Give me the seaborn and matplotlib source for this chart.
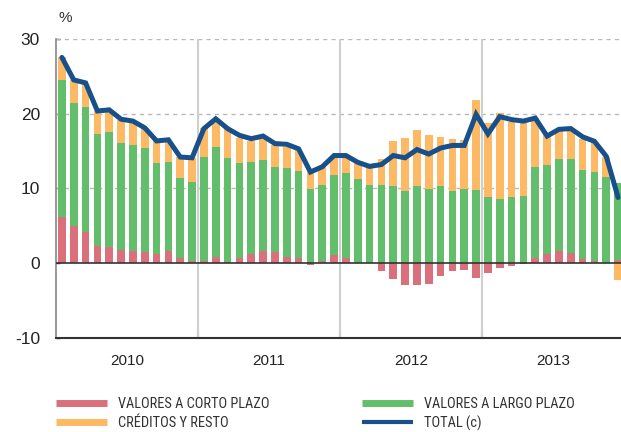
import numpy as np
import matplotlib
matplotlib.use("Agg")
import matplotlib.pyplot as plt
import seaborn as sns
from matplotlib.lines import Line2D
from matplotlib import font_manager as fm

# monthly data, jan-2010 .. dec-2013 (% contributions)
years = ["2010", "2011", "2012", "2013"]
corto = [6.25, 5.0, 4.15, 2.3, 2.15, 1.8, 1.6, 1.5, 1.25, 1.6, 0.7, 0.27,
         0.27, 0.9, 0.13, 0.7, 1.25, 1.7, 1.56, 0.8, 0.7, -0.2, 0.36, 1.1,
         0.7, 0.0, 0.0, -1.0, -2.1, -2.9, -2.9, -2.7, -1.7, -1.0, -0.85, -1.9,
         -1.3, -0.6, -0.35, -0.1, 0.7, 1.25, 1.6, 1.35, 0.6, 0.27, 0.0, 0.5]
largo = [18.3, 16.4, 16.75, 15.0, 15.35, 14.3, 14.2, 13.9, 12.15, 11.9, 10.7, 10.6,
         14.0, 14.7, 14.0, 12.7, 12.35, 12.05, 11.3, 11.9, 11.6, 9.95, 10.05, 10.7,
         11.35, 11.3, 10.5, 10.5, 10.36, 9.7, 10.3, 10.0, 10.3, 9.7, 10.0, 9.8,
         8.9, 8.6, 8.85, 9.0, 12.2, 11.85, 12.4, 12.55, 11.9, 11.9, 11.6, 10.25]
creditos = [3.05, 3.1, 3.1, 3.1, 3.0, 3.1, 3.2, 2.7, 2.9, 2.9, 2.8, 3.25,
            3.8, 3.3, 3.8, 3.4, 2.8, 2.9, 2.95, 2.9, 2.8, 2.25, 2.5, 2.4,
            2.35, 2.2, 2.6, 3.5, 6.0, 7.1, 7.5, 7.2, 6.6, 6.9, 6.5, 12.0,
            9.85, 11.5, 10.05, 9.7, 6.5, 4.0, 3.8, 4.1, 4.15, 4.0, 2.6, -2.2]
total = [27.5, 24.5, 24.1, 20.35, 20.5, 19.25, 19.0, 18.1, 16.35, 16.5, 14.2, 14.1,
         18.0, 19.3, 18.0, 17.1, 16.65, 17.0, 16.0, 15.9, 15.3, 12.2, 12.9, 14.4,
         14.4, 13.5, 12.95, 13.2, 14.4, 14.1, 15.2, 14.6, 15.4, 15.75, 15.75, 19.9,
         17.3, 19.6, 19.2, 19.0, 19.4, 17.0, 17.9, 18.0, 16.9, 16.3, 14.3, 8.8]
labels = ["VALORES A CORTO PLAZO", "CRÉDITOS Y RESTO",
          "VALORES A LARGO PLAZO", "TOTAL (c)"]

c_corto = "#D9707B"
c_largo = "#62BE6B"
c_cred = "#FDB963"
c_total = "#17508A"

sns.set_theme(style="white")
plt.rcParams["font.family"] = ["Liberation Sans", "DejaVu Sans"]

fig = plt.figure(figsize=(6.21, 4.32), dpi=100)
ax = fig.add_axes([56 / 621, 1 - 338.3 / 432, 568 / 621, 299.6 / 432])

x = np.arange(len(total))
pos = np.zeros(len(x))
neg = np.zeros(len(x))
for vals, col in [(corto, c_corto), (largo, c_largo), (creditos, c_cred)]:
    v = np.array(vals)
    bottom = np.where(v >= 0, pos, neg)
    ax.bar(x, v, width=0.65, bottom=bottom, color=col, edgecolor="none", zorder=2)
    pos = pos + np.where(v >= 0, v, 0)
    neg = neg + np.where(v < 0, v, 0)

sns.lineplot(x=x, y=total, ax=ax, color=c_total, lw=3.6, zorder=4,
             solid_joinstyle="miter")

# grid and frame
for yv in [10, 20, 30]:
    ax.axhline(yv, color="#b8b8b8", lw=1, ls=(0, (3, 3)), zorder=1)
ax.axhline(0, color="#333333", lw=1.2, zorder=3)
for xv in [11.5, 23.5, 35.5]:
    ax.axvline(xv, color="#cfcfcf", lw=1.5, zorder=1)

ax.set_xlim(-0.5, 47.5)
ax.set_ylim(-10, 30)
ax.set_yticks([-10, 0, 10, 20, 30])
ax.set_yticklabels(["-10", "0", "10", "20", "30"])
ax.tick_params(axis="y", direction="in", length=3, width=1, color="#333333",
               pad=11.5, labelsize=12.5, labelcolor="#222222", left=True)

ax.set_xticks([11.5, 23.5, 35.5])
ax.set_xticklabels([])
ax.set_xticks([5.5, 17.5, 29.5, 41.5], minor=True)
ax.set_xticklabels(years, minor=True)
ax.tick_params(axis="x", which="major", direction="in", length=5, width=1.5,
               color="#555555", bottom=True)
ax.tick_params(axis="x", which="minor", length=0, pad=11, labelsize=11,
               labelcolor="#222222")

for s in ["top", "right"]:
    ax.spines[s].set_visible(False)
ax.spines["left"].set_color("#888888")
ax.spines["left"].set_linewidth(1.2)
ax.spines["bottom"].set_color("#333333")
ax.spines["bottom"].set_linewidth(1.5)

fig.text(65 / 621, 1 - 18 / 432, "%", ha="center", va="center", fontsize=11,
         color="#333333")

# legend font: a narrow face if one is installed
fonts = {(f.name, f.stretch) for f in fm.fontManager.ttflist}
names = {n for n, s in fonts}
if "Liberation Sans Narrow" in names:
    lprop = fm.FontProperties(family="Liberation Sans Narrow")
elif "Roboto Condensed" in names:
    lprop = fm.FontProperties(family="Roboto Condensed")
elif ("DejaVu Sans", "condensed") in fonts or ("DejaVu Sans", "semi-condensed") in fonts:
    lprop = fm.FontProperties(family="DejaVu Sans", stretch="condensed")
else:
    lprop = fm.FontProperties(family="Liberation Sans")
lprop.set_size(10)
rend = fig.canvas.get_renderer()
w10 = rend.get_text_width_height_descent(labels[0], lprop, ismath=False)[0]
fs = min(11.0, 10 * 152 / w10)
lprop.set_size(fs)
fs_px = fs * 100 / 72

handles = [Line2D([], [], color=c_corto, lw=5, solid_capstyle="butt"),
           Line2D([], [], color=c_cred, lw=5, solid_capstyle="butt"),
           Line2D([], [], color=c_largo, lw=5, solid_capstyle="butt"),
           Line2D([], [], color=c_total, lw=3, solid_capstyle="butt")]
fig.legend(handles, labels, ncol=2, loc="center left",
           bbox_to_anchor=(56 / 621, 1 - 414 / 432), frameon=False,
           borderpad=0, borderaxespad=0, handlelength=51 / fs_px,
           handletextpad=10.5 / fs_px, columnspacing=93 / fs_px,
           labelspacing=max(0.0, (18.8 - 0.99 * fs_px) / fs_px),
           prop=lprop, labelcolor="#333333")

fig.savefig("out.png", dpi=100)
